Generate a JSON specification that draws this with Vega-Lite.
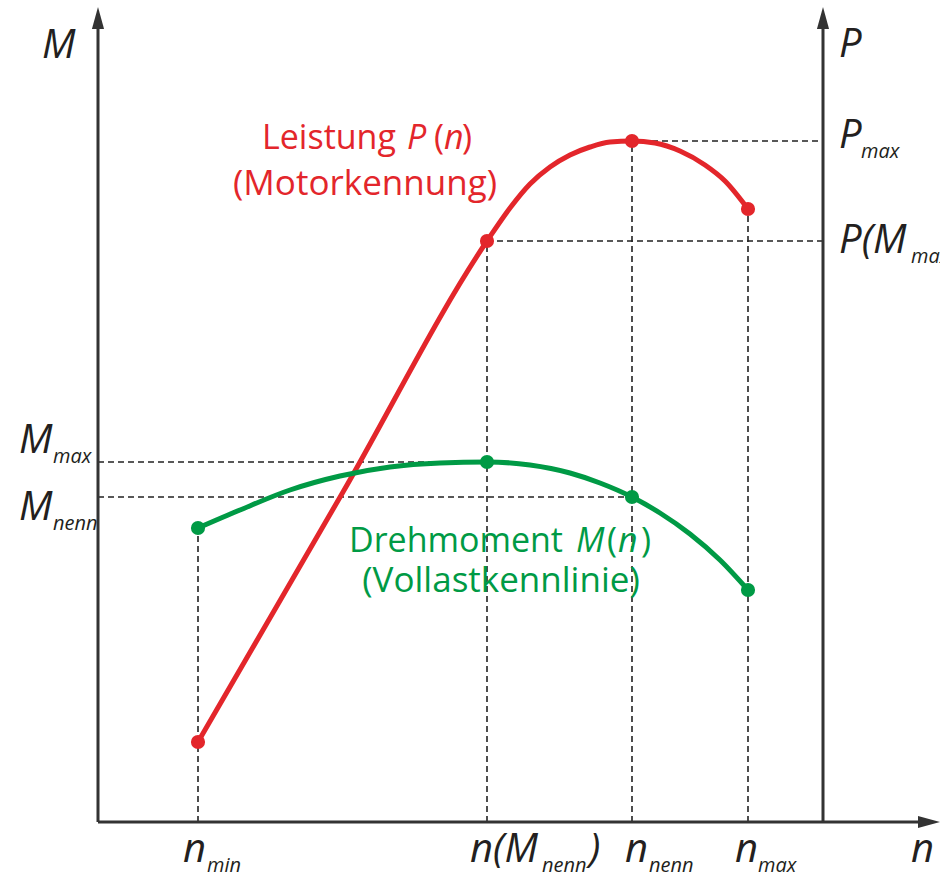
{
  "$schema": "https://vega.github.io/schema/vega-lite/v6.json",
  "width": 940,
  "height": 876,
  "padding": 0,
  "autosize": {"type": "none"},
  "background": "white",
  "config": {"view": {"stroke": null}},
  "encoding": {
    "x": {"field": "n", "type": "quantitative", "scale": {"domain": [-98, 842], "nice": false, "zero": false}, "axis": null},
    "y": {"field": "v", "type": "quantitative", "scale": {"domain": [-54, 822], "nice": false, "zero": false}, "axis": null}
  },
  "layer": [
    {
      "data": {"values": [
        {"n": 0, "v": 360, "n2": 389, "v2": 360},
        {"n": 0, "v": 325, "n2": 534, "v2": 325},
        {"n": 100, "v": 0, "n2": 100, "v2": 294},
        {"n": 389, "v": 0, "n2": 389, "v2": 581},
        {"n": 534, "v": 0, "n2": 534, "v2": 681},
        {"n": 650, "v": 0, "n2": 650, "v2": 613},
        {"n": 534, "v": 681, "n2": 725, "v2": 681},
        {"n": 389, "v": 581, "n2": 725, "v2": 581}
      ]},
      "mark": {"type": "rule", "stroke": "#222222", "strokeWidth": 1.6, "strokeDash": [6, 4]},
      "encoding": {"x2": {"field": "n2"}, "y2": {"field": "v2"}}
    },
    {
      "data": {"values": [
        {"n": 0, "v": 0, "n2": 0, "v2": 800},
        {"n": 725, "v": 0, "n2": 725, "v2": 800},
        {"n": 0, "v": 0, "n2": 832, "v2": 0}
      ]},
      "mark": {"type": "rule", "stroke": "#333333", "strokeWidth": 3},
      "encoding": {"x2": {"field": "n2"}, "y2": {"field": "v2"}}
    },
    {
      "data": {"values": [
        {"n": 0, "v": 804},
        {"n": 725, "v": 804}
      ]},
      "mark": {"type": "point", "shape": "M0,-1L0.55,1L-0.55,1Z", "size": 484, "filled": true, "fill": "#333333", "opacity": 1, "strokeWidth": 0}
    },
    {
      "data": {"values": [
        {"n": 831, "v": 0}
      ]},
      "mark": {"type": "point", "shape": "M1,0L-1,-0.55L-1,0.55Z", "size": 484, "filled": true, "fill": "#333333", "opacity": 1, "strokeWidth": 0}
    },
    {
      "data": {"values": [
        {"n": 100, "v": 80},
        {"n": 245, "v": 330},
        {"n": 389, "v": 581},
        {"n": 412, "v": 614},
        {"n": 432, "v": 638},
        {"n": 452, "v": 655},
        {"n": 472, "v": 667},
        {"n": 492, "v": 675},
        {"n": 512, "v": 680},
        {"n": 534, "v": 681},
        {"n": 557, "v": 679},
        {"n": 582, "v": 671},
        {"n": 607, "v": 657},
        {"n": 627, "v": 641},
        {"n": 650, "v": 613}
      ]},
      "mark": {"type": "line", "interpolate": "monotone", "stroke": "#e3262b", "strokeWidth": 5, "strokeCap": "round"}
    },
    {
      "data": {"values": [
        {"n": 100, "v": 294},
        {"n": 142, "v": 312},
        {"n": 192, "v": 332},
        {"n": 242, "v": 346},
        {"n": 292, "v": 355},
        {"n": 342, "v": 359},
        {"n": 389, "v": 360},
        {"n": 432, "v": 357},
        {"n": 472, "v": 349},
        {"n": 502, "v": 339},
        {"n": 534, "v": 325},
        {"n": 562, "v": 309},
        {"n": 592, "v": 288},
        {"n": 622, "v": 262},
        {"n": 650, "v": 232}
      ]},
      "mark": {"type": "line", "interpolate": "monotone", "stroke": "#009a45", "strokeWidth": 5, "strokeCap": "round"}
    },
    {
      "data": {"values": [
        {"n": 100, "v": 80},
        {"n": 389, "v": 581},
        {"n": 534, "v": 681},
        {"n": 650, "v": 613}
      ]},
      "mark": {"type": "circle", "size": 200, "color": "#e3262b", "opacity": 1}
    },
    {
      "data": {"values": [
        {"n": 100, "v": 294},
        {"n": 389, "v": 360},
        {"n": 534, "v": 325},
        {"n": 650, "v": 232}
      ]},
      "mark": {"type": "circle", "size": 200, "color": "#009a45", "opacity": 1}
    },
    {
      "data": {"values": [
        {"n": -56, "v": 764, "t": "M"},
        {"n": 741, "v": 765, "t": "P"},
        {"n": -79, "v": 369, "t": "M"},
        {"n": -79, "v": 302, "t": "M"},
        {"n": 85, "v": -40, "t": "n"},
        {"n": 372, "v": -40, "t": "n(M"},
        {"n": 491, "v": -40, "t": ")"},
        {"n": 527, "v": -40, "t": "n"},
        {"n": 637, "v": -40, "t": "n"},
        {"n": 813, "v": -40, "t": "n"},
        {"n": 741, "v": 674, "t": "P"},
        {"n": 741, "v": 569, "t": "P(M"}
      ]},
      "mark": {"type": "text", "font": "Open Sans", "fontStyle": "italic", "fontSize": 40, "align": "left", "baseline": "alphabetic", "color": "#231f20"},
      "encoding": {"text": {"field": "t"}}
    },
    {
      "data": {"values": [
        {"n": -45, "v": 359, "t": "max"},
        {"n": -45, "v": 292, "t": "nenn"},
        {"n": 109, "v": -50, "t": "min"},
        {"n": 444, "v": -50, "t": "nenn"},
        {"n": 551, "v": -50, "t": "nenn"},
        {"n": 660, "v": -50, "t": "max"},
        {"n": 763, "v": 664, "t": "max"},
        {"n": 813, "v": 559, "t": "max"}
      ]},
      "mark": {"type": "text", "font": "Open Sans", "fontStyle": "italic", "fontSize": 20, "align": "left", "baseline": "alphabetic", "color": "#231f20"},
      "encoding": {"text": {"field": "t"}}
    },
    {
      "data": {"values": [
        {"n": 164, "v": 673, "t": "Leistung"},
        {"n": 336, "v": 673, "t": "("},
        {"n": 364, "v": 673, "t": ")"}
      ]},
      "mark": {"type": "text", "font": "Open Sans", "fontSize": 34, "align": "left", "baseline": "alphabetic", "color": "#e3262b"},
      "encoding": {"text": {"field": "t"}}
    },
    {
      "data": {"values": [
        {"n": 309, "v": 673, "t": "P"},
        {"n": 346, "v": 673, "t": "n"}
      ]},
      "mark": {"type": "text", "font": "Open Sans", "fontStyle": "italic", "fontSize": 34, "align": "left", "baseline": "alphabetic", "color": "#e3262b"},
      "encoding": {"text": {"field": "t"}}
    },
    {
      "data": {"values": [
        {"n": 267, "v": 627, "t": "(Motorkennung)"}
      ]},
      "mark": {"type": "text", "font": "Open Sans", "fontSize": 35, "align": "center", "baseline": "alphabetic", "color": "#e3262b"},
      "encoding": {"text": {"field": "t"}}
    },
    {
      "data": {"values": [
        {"n": 251, "v": 270, "t": "Drehmoment"},
        {"n": 509, "v": 270, "t": "("},
        {"n": 543, "v": 270, "t": ")"}
      ]},
      "mark": {"type": "text", "font": "Open Sans", "fontSize": 34, "align": "left", "baseline": "alphabetic", "color": "#009a45"},
      "encoding": {"text": {"field": "t"}}
    },
    {
      "data": {"values": [
        {"n": 478, "v": 270, "t": "M"},
        {"n": 520, "v": 270, "t": "n"}
      ]},
      "mark": {"type": "text", "font": "Open Sans", "fontStyle": "italic", "fontSize": 34, "align": "left", "baseline": "alphabetic", "color": "#009a45"},
      "encoding": {"text": {"field": "t"}}
    },
    {
      "data": {"values": [
        {"n": 403, "v": 230, "t": "(Vollastkennlinie)"}
      ]},
      "mark": {"type": "text", "font": "Open Sans", "fontSize": 35, "align": "center", "baseline": "alphabetic", "color": "#009a45"},
      "encoding": {"text": {"field": "t"}}
    }
  ]
}
